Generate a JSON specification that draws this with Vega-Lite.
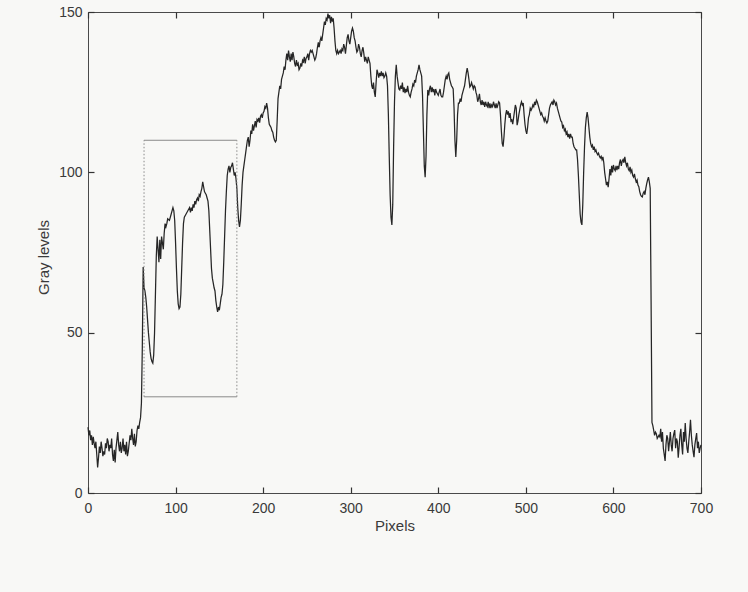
{
  "$schema": "https://vega.github.io/schema/vega-lite/v6.json",
  "width": 613,
  "height": 481,
  "autosize": {"type": "none"},
  "padding": {"left": 88, "top": 12, "right": 47, "bottom": 99},
  "background": "#f8f8f6",
  "config": {
    "view": {"stroke": "#4a4a4a", "strokeWidth": 1},
    "font": "Liberation Sans",
    "axis": {
      "domain": false,
      "grid": false,
      "labelFont": "Liberation Sans",
      "labelFontSize": 14,
      "labelColor": "#3a3a3a",
      "titleFont": "Liberation Sans",
      "titleFontSize": 15,
      "titleFontWeight": "normal",
      "titleColor": "#3a3a3a"
    }
  },
  "datasets": {
    "profile": [
      {"pixel":0,"gray":20.5},{"pixel":1,"gray":18},{"pixel":2,"gray":19.5},{"pixel":3,"gray":16.5},{"pixel":4,"gray":18},{"pixel":5,"gray":15},{"pixel":6,"gray":17.5},{"pixel":7,"gray":15.5},{"pixel":8,"gray":14},{"pixel":9,"gray":16},
      {"pixel":10,"gray":12},{"pixel":11,"gray":8},{"pixel":12,"gray":11},{"pixel":13,"gray":14.5},{"pixel":14,"gray":12.5},{"pixel":15,"gray":16},{"pixel":16,"gray":14},{"pixel":17,"gray":11.5},{"pixel":18,"gray":13},{"pixel":19,"gray":12},
      {"pixel":20,"gray":15.5},{"pixel":21,"gray":14},{"pixel":22,"gray":17},{"pixel":23,"gray":16},{"pixel":24,"gray":13},{"pixel":25,"gray":15},{"pixel":26,"gray":14},{"pixel":27,"gray":17},{"pixel":28,"gray":12},{"pixel":29,"gray":10},
      {"pixel":30,"gray":13.5},{"pixel":31,"gray":9.5},{"pixel":32,"gray":14},{"pixel":33,"gray":16.5},{"pixel":34,"gray":19},{"pixel":35,"gray":15},{"pixel":36,"gray":13},{"pixel":37,"gray":16},{"pixel":38,"gray":12.5},{"pixel":39,"gray":14},
      {"pixel":40,"gray":17},{"pixel":41,"gray":13},{"pixel":42,"gray":15},{"pixel":43,"gray":12},{"pixel":44,"gray":16},{"pixel":45,"gray":11.5},{"pixel":46,"gray":13},{"pixel":47,"gray":15.5},{"pixel":48,"gray":18},{"pixel":49,"gray":16.5},
      {"pixel":50,"gray":20},{"pixel":51,"gray":17},{"pixel":52,"gray":15},{"pixel":53,"gray":18.5},{"pixel":54,"gray":14.5},{"pixel":55,"gray":16},{"pixel":56,"gray":19.5},{"pixel":57,"gray":21},{"pixel":58,"gray":20},{"pixel":59,"gray":22},
      {"pixel":60,"gray":23.5},{"pixel":61,"gray":28},{"pixel":62,"gray":45},{"pixel":63,"gray":70.5},{"pixel":64,"gray":64},{"pixel":65,"gray":63},{"pixel":66,"gray":61},{"pixel":67,"gray":58},{"pixel":68,"gray":54},{"pixel":69,"gray":50},
      {"pixel":70,"gray":47},{"pixel":71,"gray":44},{"pixel":72,"gray":42},{"pixel":73,"gray":41},{"pixel":74,"gray":40.5},{"pixel":75,"gray":43},{"pixel":76,"gray":50},{"pixel":77,"gray":62},{"pixel":78,"gray":74},{"pixel":79,"gray":80},
      {"pixel":80,"gray":76},{"pixel":81,"gray":72},{"pixel":82,"gray":79},{"pixel":83,"gray":73},{"pixel":84,"gray":80},{"pixel":85,"gray":78},{"pixel":86,"gray":76},{"pixel":87,"gray":81},{"pixel":88,"gray":84},{"pixel":89,"gray":83},
      {"pixel":90,"gray":84},{"pixel":91,"gray":85.5},{"pixel":93,"gray":85},{"pixel":95,"gray":87},{"pixel":97,"gray":89},{"pixel":98,"gray":88},{"pixel":99,"gray":85},
      {"pixel":100,"gray":78},{"pixel":101,"gray":70},{"pixel":102,"gray":63},{"pixel":103,"gray":59},{"pixel":104,"gray":57.5},{"pixel":105,"gray":58},{"pixel":106,"gray":62},{"pixel":107,"gray":70},{"pixel":108,"gray":78},{"pixel":109,"gray":84},
      {"pixel":110,"gray":86},{"pixel":112,"gray":87},{"pixel":114,"gray":88},{"pixel":116,"gray":89},{"pixel":117,"gray":87.5},{"pixel":118,"gray":89},{"pixel":119,"gray":88},
      {"pixel":120,"gray":90},{"pixel":121,"gray":89},{"pixel":122,"gray":91},{"pixel":123,"gray":90},{"pixel":124,"gray":91.5},{"pixel":125,"gray":92},{"pixel":126,"gray":91},{"pixel":127,"gray":93},{"pixel":128,"gray":92.5},{"pixel":129,"gray":94},
      {"pixel":130,"gray":95},{"pixel":131,"gray":97},{"pixel":132,"gray":95.5},{"pixel":133,"gray":94},{"pixel":134,"gray":93.5},{"pixel":135,"gray":93},{"pixel":136,"gray":92},{"pixel":137,"gray":91},{"pixel":138,"gray":88},{"pixel":139,"gray":82},
      {"pixel":140,"gray":76},{"pixel":141,"gray":70},{"pixel":142,"gray":67},{"pixel":143,"gray":65.5},{"pixel":144,"gray":64},{"pixel":145,"gray":63},{"pixel":146,"gray":60},{"pixel":147,"gray":58},{"pixel":148,"gray":56.5},{"pixel":149,"gray":58},
      {"pixel":150,"gray":57},{"pixel":151,"gray":59},{"pixel":152,"gray":61},{"pixel":153,"gray":62},{"pixel":154,"gray":65},{"pixel":155,"gray":72},{"pixel":156,"gray":80},{"pixel":157,"gray":88},{"pixel":158,"gray":94},{"pixel":159,"gray":99},
      {"pixel":160,"gray":101},{"pixel":161,"gray":102},{"pixel":162,"gray":100},{"pixel":163,"gray":101.5},{"pixel":164,"gray":102},{"pixel":165,"gray":103},{"pixel":166,"gray":101},{"pixel":167,"gray":99},{"pixel":168,"gray":100},{"pixel":169,"gray":98},
      {"pixel":170,"gray":95},{"pixel":171,"gray":89},{"pixel":172,"gray":85},{"pixel":173,"gray":83},{"pixel":174,"gray":85},{"pixel":175,"gray":90},{"pixel":176,"gray":96},{"pixel":177,"gray":100},{"pixel":178,"gray":102},{"pixel":179,"gray":104},
      {"pixel":180,"gray":106},{"pixel":181,"gray":108},{"pixel":182,"gray":110},{"pixel":183,"gray":111},{"pixel":184,"gray":108},{"pixel":185,"gray":110},{"pixel":186,"gray":113},{"pixel":187,"gray":112},{"pixel":188,"gray":115},{"pixel":189,"gray":113},
      {"pixel":190,"gray":114.5},{"pixel":191,"gray":116},{"pixel":192,"gray":114},{"pixel":193,"gray":116.5},{"pixel":194,"gray":116},{"pixel":195,"gray":117},{"pixel":196,"gray":115.5},{"pixel":197,"gray":117.5},{"pixel":198,"gray":118},{"pixel":199,"gray":117},
      {"pixel":200,"gray":118.5},{"pixel":201,"gray":119},{"pixel":202,"gray":120.5},{"pixel":203,"gray":120},{"pixel":204,"gray":121.6},{"pixel":205,"gray":120},{"pixel":206,"gray":117},{"pixel":207,"gray":115},{"pixel":208,"gray":114.5},{"pixel":209,"gray":114},
      {"pixel":210,"gray":113},{"pixel":211,"gray":112.5},{"pixel":212,"gray":111},{"pixel":213,"gray":110},{"pixel":214,"gray":109.5},{"pixel":215,"gray":110},{"pixel":216,"gray":116},{"pixel":217,"gray":123},{"pixel":218,"gray":125},{"pixel":219,"gray":127},
      {"pixel":220,"gray":126},{"pixel":221,"gray":129},{"pixel":222,"gray":130},{"pixel":223,"gray":131},{"pixel":224,"gray":133},{"pixel":225,"gray":132},{"pixel":226,"gray":135},{"pixel":227,"gray":137},{"pixel":228,"gray":135},{"pixel":229,"gray":138},
      {"pixel":230,"gray":136},{"pixel":231,"gray":134.5},{"pixel":232,"gray":137},{"pixel":233,"gray":135},{"pixel":234,"gray":137.5},{"pixel":235,"gray":136},{"pixel":236,"gray":134},{"pixel":237,"gray":133},{"pixel":238,"gray":135},{"pixel":239,"gray":133.5},
      {"pixel":240,"gray":134},{"pixel":241,"gray":132},{"pixel":242,"gray":132.5},{"pixel":243,"gray":134},{"pixel":244,"gray":133},{"pixel":245,"gray":135},{"pixel":246,"gray":134.5},{"pixel":247,"gray":136},{"pixel":248,"gray":134},{"pixel":249,"gray":135.5},
      {"pixel":250,"gray":136},{"pixel":251,"gray":137},{"pixel":252,"gray":135},{"pixel":253,"gray":137},{"pixel":254,"gray":138},{"pixel":255,"gray":137.5},{"pixel":256,"gray":138},{"pixel":257,"gray":137},{"pixel":258,"gray":136},{"pixel":259,"gray":135},
      {"pixel":260,"gray":135.6},{"pixel":261,"gray":137},{"pixel":262,"gray":139},{"pixel":263,"gray":140.5},{"pixel":264,"gray":139},{"pixel":265,"gray":141},{"pixel":266,"gray":142},{"pixel":267,"gray":141},{"pixel":268,"gray":143},{"pixel":269,"gray":145},
      {"pixel":270,"gray":147},{"pixel":271,"gray":146},{"pixel":272,"gray":148},{"pixel":273,"gray":147.5},{"pixel":274,"gray":149.5},{"pixel":275,"gray":148},{"pixel":276,"gray":149},{"pixel":277,"gray":146.5},{"pixel":278,"gray":148.5},{"pixel":279,"gray":147},
      {"pixel":280,"gray":148},{"pixel":281,"gray":145},{"pixel":282,"gray":141},{"pixel":283,"gray":138},{"pixel":284,"gray":137},{"pixel":285,"gray":138},{"pixel":286,"gray":137},{"pixel":287,"gray":137.5},{"pixel":288,"gray":138},{"pixel":289,"gray":137},
      {"pixel":290,"gray":138.5},{"pixel":291,"gray":138},{"pixel":292,"gray":140},{"pixel":293,"gray":139},{"pixel":294,"gray":137},{"pixel":295,"gray":139.5},{"pixel":296,"gray":142},{"pixel":297,"gray":143},{"pixel":298,"gray":141},{"pixel":299,"gray":140},
      {"pixel":300,"gray":142},{"pixel":301,"gray":144},{"pixel":302,"gray":145},{"pixel":303,"gray":144},{"pixel":304,"gray":142},{"pixel":305,"gray":141},{"pixel":306,"gray":139},{"pixel":307,"gray":137.5},{"pixel":308,"gray":138},{"pixel":309,"gray":140},
      {"pixel":310,"gray":139},{"pixel":311,"gray":137},{"pixel":312,"gray":136},{"pixel":313,"gray":138},{"pixel":314,"gray":139},{"pixel":315,"gray":137},{"pixel":316,"gray":134.5},{"pixel":317,"gray":136},{"pixel":318,"gray":135},{"pixel":319,"gray":134},
      {"pixel":320,"gray":136},{"pixel":321,"gray":135},{"pixel":322,"gray":134},{"pixel":323,"gray":130},{"pixel":324,"gray":127},{"pixel":325,"gray":126},{"pixel":326,"gray":128},{"pixel":327,"gray":125},{"pixel":328,"gray":123.5},{"pixel":329,"gray":128},
      {"pixel":330,"gray":132},{"pixel":331,"gray":131},{"pixel":332,"gray":129.5},{"pixel":333,"gray":131},{"pixel":334,"gray":130},{"pixel":335,"gray":131.5},{"pixel":336,"gray":130},{"pixel":337,"gray":131},{"pixel":338,"gray":129.5},{"pixel":339,"gray":130},
      {"pixel":340,"gray":131},{"pixel":341,"gray":130},{"pixel":342,"gray":127},{"pixel":343,"gray":118},{"pixel":344,"gray":105},{"pixel":345,"gray":93},{"pixel":346,"gray":86},{"pixel":347,"gray":83.6},{"pixel":348,"gray":90},{"pixel":349,"gray":108},
      {"pixel":350,"gray":122},{"pixel":351,"gray":130},{"pixel":352,"gray":133.5},{"pixel":353,"gray":130},{"pixel":354,"gray":128},{"pixel":355,"gray":126},{"pixel":356,"gray":125.7},{"pixel":357,"gray":127},{"pixel":358,"gray":126},{"pixel":359,"gray":128},
      {"pixel":360,"gray":125},{"pixel":361,"gray":126.5},{"pixel":362,"gray":124.7},{"pixel":363,"gray":126},{"pixel":364,"gray":125},{"pixel":365,"gray":127},{"pixel":366,"gray":125},{"pixel":367,"gray":124},{"pixel":368,"gray":123.5},{"pixel":369,"gray":125},
      {"pixel":370,"gray":126},{"pixel":371,"gray":127.5},{"pixel":372,"gray":127},{"pixel":373,"gray":128.8},{"pixel":374,"gray":128},{"pixel":375,"gray":130},{"pixel":376,"gray":131},{"pixel":377,"gray":132},{"pixel":378,"gray":133.5},{"pixel":379,"gray":132},
      {"pixel":380,"gray":131},{"pixel":381,"gray":130},{"pixel":382,"gray":124},{"pixel":383,"gray":113},{"pixel":384,"gray":102},{"pixel":385,"gray":98.5},{"pixel":386,"gray":105},{"pixel":387,"gray":118},{"pixel":388,"gray":125.7},{"pixel":389,"gray":124},
      {"pixel":390,"gray":126},{"pixel":391,"gray":127},{"pixel":392,"gray":125},{"pixel":393,"gray":126.5},{"pixel":394,"gray":125},{"pixel":395,"gray":126},{"pixel":396,"gray":124},{"pixel":397,"gray":126},{"pixel":398,"gray":125},{"pixel":399,"gray":124.5},
      {"pixel":400,"gray":124},{"pixel":401,"gray":125},{"pixel":402,"gray":126},{"pixel":403,"gray":124},{"pixel":404,"gray":123.5},{"pixel":405,"gray":123.5},{"pixel":406,"gray":125},{"pixel":407,"gray":127},{"pixel":408,"gray":129},{"pixel":409,"gray":130},
      {"pixel":410,"gray":129},{"pixel":411,"gray":130.5},{"pixel":412,"gray":131},{"pixel":413,"gray":129},{"pixel":414,"gray":128},{"pixel":415,"gray":127},{"pixel":416,"gray":126.6},{"pixel":417,"gray":126},{"pixel":418,"gray":120},{"pixel":419,"gray":110},
      {"pixel":420,"gray":104.8},{"pixel":421,"gray":110},{"pixel":422,"gray":118},{"pixel":423,"gray":121.6},{"pixel":424,"gray":121.6},{"pixel":425,"gray":123},{"pixel":426,"gray":122},{"pixel":427,"gray":124},{"pixel":428,"gray":125},{"pixel":429,"gray":126},
      {"pixel":430,"gray":127},{"pixel":431,"gray":129},{"pixel":432,"gray":131},{"pixel":433,"gray":132.5},{"pixel":434,"gray":131},{"pixel":435,"gray":129},{"pixel":436,"gray":126.6},{"pixel":437,"gray":127},{"pixel":438,"gray":128},{"pixel":439,"gray":127},
      {"pixel":440,"gray":126},{"pixel":441,"gray":127},{"pixel":442,"gray":126.6},{"pixel":443,"gray":125},{"pixel":444,"gray":124},{"pixel":445,"gray":122},{"pixel":446,"gray":123},{"pixel":447,"gray":124.5},{"pixel":448,"gray":122},{"pixel":449,"gray":121},
      {"pixel":450,"gray":122.5},{"pixel":451,"gray":121},{"pixel":452,"gray":122},{"pixel":453,"gray":120.4},{"pixel":454,"gray":122},{"pixel":455,"gray":121},{"pixel":456,"gray":120.5},{"pixel":457,"gray":122},{"pixel":458,"gray":120},{"pixel":459,"gray":121.5},
      {"pixel":460,"gray":120},{"pixel":461,"gray":121},{"pixel":462,"gray":120.5},{"pixel":463,"gray":122},{"pixel":464,"gray":121},{"pixel":465,"gray":120},{"pixel":466,"gray":121.5},{"pixel":467,"gray":120},{"pixel":468,"gray":121},{"pixel":469,"gray":122},
      {"pixel":470,"gray":121.6},{"pixel":471,"gray":118},{"pixel":472,"gray":113},{"pixel":473,"gray":109},{"pixel":474,"gray":108},{"pixel":475,"gray":111},{"pixel":476,"gray":115},{"pixel":477,"gray":118},{"pixel":478,"gray":119.4},{"pixel":479,"gray":118},
      {"pixel":480,"gray":119},{"pixel":481,"gray":117},{"pixel":482,"gray":118.5},{"pixel":483,"gray":116},{"pixel":484,"gray":116.3},{"pixel":485,"gray":115},{"pixel":486,"gray":117},{"pixel":487,"gray":119},{"pixel":488,"gray":121},{"pixel":489,"gray":120},
      {"pixel":490,"gray":114.7},{"pixel":491,"gray":116},{"pixel":492,"gray":118},{"pixel":493,"gray":119.5},{"pixel":494,"gray":121},{"pixel":495,"gray":122},{"pixel":496,"gray":121},{"pixel":497,"gray":121.6},{"pixel":498,"gray":118},{"pixel":499,"gray":115},
      {"pixel":500,"gray":113},{"pixel":501,"gray":112},{"pixel":502,"gray":114},{"pixel":503,"gray":117},{"pixel":504,"gray":118},{"pixel":505,"gray":120},{"pixel":506,"gray":119.4},{"pixel":507,"gray":120},{"pixel":508,"gray":121},{"pixel":509,"gray":120.5},
      {"pixel":510,"gray":122},{"pixel":511,"gray":121},{"pixel":512,"gray":122.5},{"pixel":513,"gray":122},{"pixel":514,"gray":121},{"pixel":515,"gray":120},{"pixel":516,"gray":119},{"pixel":517,"gray":118},{"pixel":518,"gray":118.5},{"pixel":519,"gray":117.5},
      {"pixel":520,"gray":117},{"pixel":521,"gray":116},{"pixel":522,"gray":117},{"pixel":523,"gray":116},{"pixel":524,"gray":115.4},{"pixel":525,"gray":116},{"pixel":526,"gray":118},{"pixel":527,"gray":120},{"pixel":528,"gray":121},{"pixel":529,"gray":121.5},
      {"pixel":530,"gray":122},{"pixel":531,"gray":121},{"pixel":532,"gray":122.5},{"pixel":533,"gray":122},{"pixel":534,"gray":121},{"pixel":535,"gray":121.6},{"pixel":536,"gray":120},{"pixel":537,"gray":119},{"pixel":538,"gray":118},{"pixel":539,"gray":117},
      {"pixel":540,"gray":116},{"pixel":541,"gray":115.7},{"pixel":542,"gray":114},{"pixel":543,"gray":114.5},{"pixel":544,"gray":113},{"pixel":545,"gray":113.5},{"pixel":546,"gray":112},{"pixel":547,"gray":112.6},{"pixel":548,"gray":111},{"pixel":549,"gray":112},
      {"pixel":550,"gray":110.5},{"pixel":551,"gray":112},{"pixel":552,"gray":111},{"pixel":553,"gray":111},{"pixel":554,"gray":109},{"pixel":555,"gray":108},{"pixel":556,"gray":107.5},{"pixel":557,"gray":107},{"pixel":558,"gray":107},{"pixel":559,"gray":104},
      {"pixel":560,"gray":99},{"pixel":561,"gray":93},{"pixel":562,"gray":87},{"pixel":563,"gray":84.5},{"pixel":564,"gray":83.6},{"pixel":565,"gray":90},{"pixel":566,"gray":100},{"pixel":567,"gray":108},{"pixel":568,"gray":114},{"pixel":569,"gray":117},
      {"pixel":570,"gray":118.8},{"pixel":571,"gray":117},{"pixel":572,"gray":114},{"pixel":573,"gray":111},{"pixel":574,"gray":109},{"pixel":575,"gray":108},{"pixel":576,"gray":108.5},{"pixel":577,"gray":107},{"pixel":578,"gray":108},{"pixel":579,"gray":106.5},
      {"pixel":580,"gray":107},{"pixel":581,"gray":106},{"pixel":582,"gray":105.5},{"pixel":583,"gray":106},{"pixel":584,"gray":105},{"pixel":585,"gray":104.5},{"pixel":586,"gray":105},{"pixel":587,"gray":104},{"pixel":588,"gray":104.8},{"pixel":589,"gray":103},
      {"pixel":590,"gray":100},{"pixel":591,"gray":98},{"pixel":592,"gray":96},{"pixel":593,"gray":97},{"pixel":594,"gray":95.4},{"pixel":595,"gray":98},{"pixel":596,"gray":101},{"pixel":597,"gray":99},{"pixel":598,"gray":102},{"pixel":599,"gray":100},
      {"pixel":600,"gray":102.3},{"pixel":601,"gray":101},{"pixel":602,"gray":100.5},{"pixel":603,"gray":102},{"pixel":604,"gray":100.7},{"pixel":605,"gray":102},{"pixel":606,"gray":101},{"pixel":607,"gray":103},{"pixel":608,"gray":104},{"pixel":609,"gray":102},
      {"pixel":610,"gray":103.5},{"pixel":611,"gray":104},{"pixel":612,"gray":103},{"pixel":613,"gray":104.8},{"pixel":614,"gray":103},{"pixel":615,"gray":102},{"pixel":616,"gray":103},{"pixel":617,"gray":101},{"pixel":618,"gray":100.5},{"pixel":619,"gray":101.7},
      {"pixel":620,"gray":100},{"pixel":621,"gray":100.7},{"pixel":622,"gray":99},{"pixel":623,"gray":98.5},{"pixel":624,"gray":99.5},{"pixel":625,"gray":98},{"pixel":626,"gray":97},{"pixel":627,"gray":97.6},{"pixel":628,"gray":96},{"pixel":629,"gray":95.5},
      {"pixel":630,"gray":94},{"pixel":631,"gray":93},{"pixel":632,"gray":92.5},{"pixel":633,"gray":92.3},{"pixel":634,"gray":93.5},{"pixel":635,"gray":94},{"pixel":636,"gray":93},{"pixel":637,"gray":95},{"pixel":638,"gray":96.5},{"pixel":639,"gray":97.6},
      {"pixel":640,"gray":98.5},{"pixel":641,"gray":97},{"pixel":642,"gray":95},{"pixel":643,"gray":60},{"pixel":644,"gray":22},{"pixel":645,"gray":21},{"pixel":646,"gray":19.5},{"pixel":647,"gray":18},{"pixel":648,"gray":19},{"pixel":649,"gray":18.5},
      {"pixel":650,"gray":17},{"pixel":651,"gray":17.5},{"pixel":652,"gray":18},{"pixel":653,"gray":17.5},{"pixel":654,"gray":20},{"pixel":655,"gray":16},{"pixel":656,"gray":19},{"pixel":657,"gray":14},{"pixel":658,"gray":12},{"pixel":659,"gray":10},
      {"pixel":660,"gray":15},{"pixel":661,"gray":18},{"pixel":662,"gray":17},{"pixel":663,"gray":13},{"pixel":664,"gray":16},{"pixel":665,"gray":19},{"pixel":666,"gray":15},{"pixel":667,"gray":13},{"pixel":668,"gray":17},{"pixel":669,"gray":18.5},
      {"pixel":670,"gray":19.6},{"pixel":671,"gray":14},{"pixel":672,"gray":17},{"pixel":673,"gray":16},{"pixel":674,"gray":11},{"pixel":675,"gray":14.3},{"pixel":676,"gray":18},{"pixel":677,"gray":20},{"pixel":678,"gray":15},{"pixel":679,"gray":12},
      {"pixel":680,"gray":19},{"pixel":681,"gray":16},{"pixel":682,"gray":21.8},{"pixel":683,"gray":17},{"pixel":684,"gray":14},{"pixel":685,"gray":12.5},{"pixel":686,"gray":16},{"pixel":687,"gray":19},{"pixel":688,"gray":22.8},{"pixel":689,"gray":18},
      {"pixel":690,"gray":15},{"pixel":691,"gray":13},{"pixel":692,"gray":11.2},{"pixel":693,"gray":15},{"pixel":694,"gray":17},{"pixel":695,"gray":18.7},{"pixel":696,"gray":14},{"pixel":697,"gray":16},{"pixel":698,"gray":12.5},{"pixel":699,"gray":14},
      {"pixel":700,"gray":15}
    ],
    "boxEdgesH": [
      {"x0":64,"x1":170,"level":110},
      {"x0":64,"x1":170,"level":30}
    ],
    "boxEdgesV": [
      {"at":64,"low":30,"high":110},
      {"at":170,"low":30,"high":110}
    ]
  },
  "layer": [
    {
      "data": {"name": "profile"},
      "mark": {"type": "line", "color": "#262626", "strokeWidth": 1.25, "interpolate": "linear"},
      "encoding": {
        "x": {
          "field": "pixel", "type": "quantitative",
          "scale": {"domain": [0, 700], "nice": false, "zero": false},
          "axis": {"title": "Pixels", "values": [0,100,200,300,400,500,600,700], "offset": -6, "ticks": true, "tickSize": 6, "tickWidth": 1.2, "tickColor": "#333333", "tickOpacity": 1, "labelPadding": 8, "titlePadding": 3, "labelFlush": false}
        },
        "y": {
          "field": "gray", "type": "quantitative",
          "scale": {"domain": [0, 150], "nice": false, "zero": false},
          "axis": {"title": "Gray levels", "values": [0,50,100,150], "offset": -6, "ticks": true, "tickSize": 6, "tickWidth": 1.2, "tickColor": "#333333", "tickOpacity": 1, "labelPadding": 6, "titlePadding": 7, "titleY": 245, "labelFlush": false}
        }
      }
    },
    {
      "data": {"name": "boxEdgesH"},
      "mark": {"type": "rule", "color": "#8a8a8a", "strokeWidth": 1},
      "encoding": {
        "x": {"field": "x0", "type": "quantitative", "axis": {"orient": "top", "labels": false, "title": null, "values": [0,100,200,300,400,500,600,700], "offset": -6, "ticks": true, "tickSize": 6, "tickWidth": 1.2, "tickColor": "#333333", "tickOpacity": 1}},
        "x2": {"field": "x1"},
        "y": {"field": "level", "type": "quantitative", "axis": {"orient": "right", "labels": false, "title": null, "values": [0,50,100,150], "offset": -6, "ticks": true, "tickSize": 6, "tickWidth": 1.2, "tickColor": "#333333", "tickOpacity": 1}}
      }
    },
    {
      "data": {"name": "boxEdgesV"},
      "mark": {"type": "rule", "color": "#8a8a8a", "strokeWidth": 1, "strokeDash": [1.5, 2]},
      "encoding": {
        "x": {"field": "at", "type": "quantitative", "axis": null},
        "y": {"field": "low", "type": "quantitative", "axis": null},
        "y2": {"field": "high"}
      }
    }
  ],
  "resolve": {"axis": {"x": "independent", "y": "independent"}}
}
